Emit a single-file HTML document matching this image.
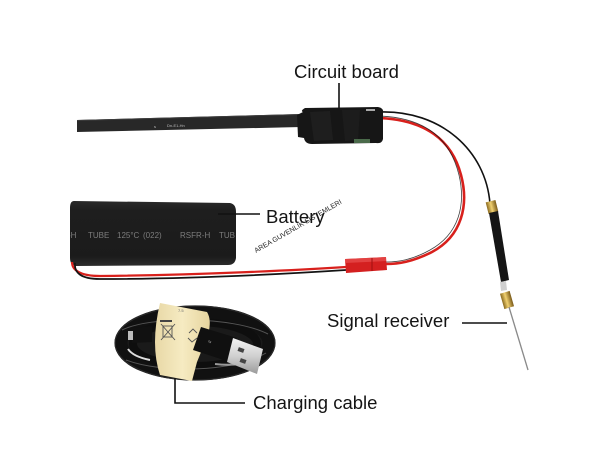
<!DOCTYPE html>
<html><head><meta charset="utf-8"><style>
html,body{margin:0;padding:0;background:#fff;}
svg{display:block;}
text{font-family:"Liberation Sans",Arial,sans-serif;}
</style></head><body>
<svg width="600" height="450" viewBox="0 0 600 450" xmlns="http://www.w3.org/2000/svg">
<defs>
<linearGradient id="bat" x1="0" y1="0" x2="0" y2="1">
<stop offset="0" stop-color="#2a2a2a"/><stop offset="0.15" stop-color="#1e1e1e"/><stop offset="0.85" stop-color="#1b1b1b"/><stop offset="1" stop-color="#2c2c2c"/>
</linearGradient>
<linearGradient id="brass" x1="0" y1="0" x2="1" y2="0">
<stop offset="0" stop-color="#8a6a20"/><stop offset="0.45" stop-color="#f0d070"/><stop offset="1" stop-color="#7a5a18"/>
</linearGradient>
<linearGradient id="metal" x1="0" y1="0" x2="0" y2="1">
<stop offset="0" stop-color="#f4f4f4"/><stop offset="0.5" stop-color="#d0d0d0"/><stop offset="1" stop-color="#9a9a9a"/>
</linearGradient>
<linearGradient id="band" x1="0" y1="0" x2="1" y2="0">
<stop offset="0" stop-color="#e8d8a6"/><stop offset="0.5" stop-color="#f6ebc2"/><stop offset="1" stop-color="#e6d49e"/>
</linearGradient>
<clipPath id="batclip"><path d="M74 201 L230 203 Q236 204 236 212 L236 258 Q235 265 228 265 L76 266 Q70 265 70 258 L70 208 Q70 201 74 201 Z"/></clipPath>
</defs>

<!-- Circuit board label -->
<text x="294" y="78" font-size="18.5" fill="#141414">Circuit board</text>
<line x1="339" y1="83" x2="339" y2="116" stroke="#111" stroke-width="1.6"/>

<!-- ribbon -->
<polygon points="77,120 302,114 302,127 77,132" fill="#282828"/>
<line x1="77" y1="120.5" x2="302" y2="114.5" stroke="#3c3c3c" stroke-width="1"/>
<text x="154" y="128" font-size="4" fill="#bbb">s</text>
<text x="167" y="127" font-size="4" fill="#bbb">Dn-E1-Hn</text>

<!-- wires from board -->
<path d="M380 112 C 440 110, 486 150, 490 204" fill="none" stroke="#111" stroke-width="1.6"/>
<path d="M380 118 C 425 120, 452 140, 461 175 C 469 205, 462 236, 432 252 C 412 262, 398 264, 386 264" fill="none" stroke="#d8201c" stroke-width="2.6"/>
<path d="M380 116 C 425 118, 450 138, 459 175 C 466 205, 459 234, 430 250 C 412 260, 398 262, 386 262" fill="none" stroke="#111" stroke-width="0.8" opacity="0.8"/>

<!-- circuit board -->
<path d="M303 112 Q300 111 305 108 L378 107 Q384 108 383 113 L383 139 Q382 144 376 143 L312 144 Q305 144 304 138 L298 137 L297 115 Z" fill="#161616"/>
<path d="M310 112 L330 111 L333 140 L314 141 Z" fill="#222" opacity="0.7"/>
<path d="M342 110 L360 110 L358 140 L345 141 Z" fill="#202020" opacity="0.7"/>
<rect x="366" y="109" width="9" height="2" fill="#aaa"/>
<rect x="354" y="139" width="16" height="4" fill="#4a6a4a"/>

<!-- battery -->
<path d="M74 201 L230 203 Q236 204 236 212 L236 258 Q235 265 228 265 L76 266 Q70 265 70 258 L70 208 Q70 201 74 201 Z" fill="url(#bat)"/>
<g clip-path="url(#batclip)" font-size="8" fill="#7c7c7c">
<text x="68" y="238">-H</text>
<text x="88" y="238">TUBE</text>
<text x="117" y="238">125°C</text>
<text x="143" y="238">(022)</text>
<text x="180" y="238">RSFR-H</text>
<text x="219" y="238">TUB</text>
</g>
<line x1="218" y1="214" x2="260" y2="214" stroke="#111" stroke-width="1.6"/>
<text x="266" y="223" font-size="18.5" fill="#141414">Battery</text>
<text x="0" y="0" font-size="7" fill="#222" transform="translate(256 253) rotate(-30)">AREA GUVENLIK SISTEMLERI</text>

<!-- bottom wire pair to battery -->
<path d="M346 267 C 300 270, 200 275, 100 276 C 80 276, 72 270, 72 262" fill="none" stroke="#d8201c" stroke-width="2.2"/>
<path d="M346 270 C 300 273, 200 279, 100 279 C 80 279, 74 272, 75 263" fill="none" stroke="#141414" stroke-width="1.8"/>

<!-- red connector -->
<path d="M345 259 L386 257 L387 270 L346 273 Z" fill="#d42020"/>
<path d="M345 259 L386 257 L386 261 L345 263 Z" fill="#e85050" opacity="0.7"/>
<line x1="372" y1="258" x2="372" y2="271" stroke="#a01010" stroke-width="1"/>

<!-- antenna -->
<g transform="rotate(-14 492 207)">
<rect x="487" y="201" width="10" height="12" fill="url(#brass)"/>
</g>
<path d="M489 213 L498 211 L509 280 L501 282 Z" fill="#151515"/>
<path d="M500 282 L506 281 L507 290 L501 291 Z" fill="#cfcfcf"/>
<g transform="rotate(-16 507 300)">
<rect x="502" y="292" width="10" height="16" fill="url(#brass)"/>
</g>
<line x1="509" y1="307" x2="528" y2="370" stroke="#8a8a8a" stroke-width="1.3"/>

<!-- signal receiver label -->
<text x="327" y="327" font-size="18.5" fill="#141414">Signal receiver</text>
<line x1="462" y1="323" x2="507" y2="323" stroke="#111" stroke-width="1.6"/>

<!-- charging cable coil -->
<ellipse cx="195" cy="343" rx="74" ry="31" fill="#1a1a1a" stroke="#111" stroke-width="13"/>
<ellipse cx="195" cy="344" rx="62" ry="22" fill="none" stroke="#0e0e0e" stroke-width="8"/>
<ellipse cx="195" cy="343" rx="80" ry="37" fill="none" stroke="#2a2a2a" stroke-width="1.2"/>
<path d="M122 330 C 150 316, 232 316, 268 334" fill="none" stroke="#555" stroke-width="1"/>
<path d="M126 360 C 160 373, 232 373, 266 353" fill="none" stroke="#555" stroke-width="1"/>
<path d="M128 349 C 132 355, 140 358, 150 360" fill="none" stroke="#ddd" stroke-width="2"/>
<path d="M215 364 C 232 366, 245 364, 255 360" fill="none" stroke="#999" stroke-width="2"/>
<!-- micro usb end -->
<path d="M132 328 L152 326 L152 342 L132 343 Z" fill="#111"/>
<rect x="128" y="331" width="5" height="9" fill="#bcbcbc"/>
<!-- band -->
<path d="M160 303 L207 312 Q212 320 208 335 L197 362 L192 381 L160 375 Q150 345 160 303 Z" fill="url(#band)"/>
<g stroke="#555" stroke-width="0.9" fill="none">
<rect x="163" y="326" width="9" height="11"/>
<line x1="161" y1="324" x2="175" y2="340"/>
<line x1="175" y1="324" x2="161" y2="340"/>
<path d="M189 333 l4 -4 l4 4 M188 338 l4 4 l5 -4"/>
</g>
<rect x="160" y="320" width="12" height="2" fill="#444"/>
<text x="178" y="312" font-size="4" fill="#666">7.5</text>
<!-- usb plug -->
<path d="M201 327 L237 338 L230 362 L193 350 Z" fill="#101010"/>
<path d="M233 338 L263 349 L257 374 L227 362 Z" fill="url(#metal)"/>
<rect x="238" y="348" width="6" height="4" fill="#444" transform="rotate(20 241 350)"/>
<rect x="240" y="359" width="6" height="4" fill="#444" transform="rotate(20 243 361)"/>
<text x="208" y="343" font-size="4" fill="#999" transform="rotate(18 210 342)">⇆</text>

<!-- charging cable label -->
<polyline points="175,378 175,403 245,403" fill="none" stroke="#111" stroke-width="1.6"/>
<text x="253" y="409" font-size="18.5" fill="#141414">Charging cable</text>
</svg>
</body></html>
